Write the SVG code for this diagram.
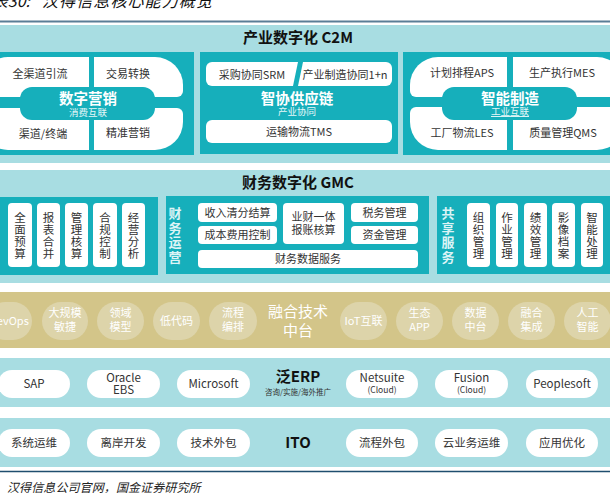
<svg xmlns="http://www.w3.org/2000/svg" width="610" height="493" viewBox="0 0 610 493">
<style>
text{font-family:"Noto Sans CJK SC","Liberation Sans",sans-serif;text-anchor:middle}
.band{fill:#a8dde2}
.panel{fill:#16afbb}
.wb{fill:#ffffff}
.t{font-size:11px;fill:#333333}
.tv{font-size:11.5px;fill:#333333}
.sec{font-size:15px;font-weight:bold;fill:#111111}
.hw{font-size:14.5px;font-weight:bold;fill:#ffffff}
.sw{font-size:9.5px;fill:#e6f7f8}
.vl{font-size:13px;font-weight:bold;fill:#dcf4f6}
.gp{fill:#ddd4aa}
.gt{font-size:11px;fill:#ffffff}
.pt{font-size:11.5px;fill:#333333}
.ps{font-size:8.5px;fill:#333333}
</style>
<g id="title">
<text x="30" y="7" style="font-size:16px;font-style:italic;text-anchor:end;fill:#111">图表30:</text>
<text x="42" y="7" style="font-size:16px;font-style:italic;text-anchor:start;letter-spacing:1.1px;fill:#111">汉得信息核心能力概览</text>
<line x1="0" y1="21.5" x2="610" y2="21.5" stroke="#5a7d96" stroke-width="2"/>
</g>
<g id="connectors"></g>
<g id="c2m">
<rect class="band" x="0" y="25" width="610" height="138"/>
<text class="sec" x="298" y="43">产业数字化 C2M</text>
<g id="marketing">
<rect class="panel" x="-10" y="52" width="204" height="103"/>
<path class="wb" d="M8 57H89V97H-14A6 6 0 0 1-20 91V85A28 28 0 0 1 8 57Z"/>
<path class="wb" d="M94 57H155A28 28 0 0 1 183 85V91A6 6 0 0 1 177 97H94Z"/>
<path class="wb" d="M-14 108H89V150H8A28 28 0 0 1-20 122V114A6 6 0 0 1-14 108Z"/>
<path class="wb" d="M94 108H177A6 6 0 0 1 183 114V122A28 28 0 0 1 155 150H94Z"/>
<rect class="panel" x="20" y="87" width="135" height="33" rx="12"/>
<text class="t" x="40" y="78">全渠道引流</text>
<text class="t" x="128" y="78">交易转换</text>
<text class="t" x="43" y="138">渠道/终端</text>
<text class="t" x="128" y="137">精准营销</text>
<text class="hw" x="88" y="104">数字营销</text>
<text class="sw" x="88" y="116">消费互联</text>
</g>
<g id="supply">
<rect class="panel" x="200" y="52" width="198" height="102"/>
<path class="wb" d="M212 62H298L293 86H212A6 6 0 0 1 206 80V68A6 6 0 0 1 212 62Z"/>
<path class="wb" d="M303 62H386A6 6 0 0 1 392 68V80A6 6 0 0 1 386 86H298Z"/>
<text class="t" x="252" y="79">采购协同SRM</text>
<text class="t" x="345" y="79">产业制造协同1+n</text>
<text class="hw" x="297" y="104">智协供应链</text>
<text class="sw" x="297" y="115">产业协同</text>
<rect class="wb" x="206" y="120" width="186" height="23" rx="6"/>
<text class="t" x="299" y="136">运输物流TMS</text>
</g>
<g id="manufacturing">
<rect class="panel" x="403" y="52" width="215" height="103"/>
<path class="wb" d="M438 57H507V97H416A6 6 0 0 1 410 91V85A28 28 0 0 1 438 57Z"/>
<path class="wb" d="M513 57H597A28 28 0 0 1 625 85V91A6 6 0 0 1 619 97H513Z"/>
<path class="wb" d="M416 107H507V150H438A28 28 0 0 1 410 122V113A6 6 0 0 1 416 107Z"/>
<path class="wb" d="M513 107H619A6 6 0 0 1 625 113V122A28 28 0 0 1 597 150H513Z"/>
<rect class="panel" x="442" y="87" width="135" height="33" rx="12"/>
<text class="t" x="462" y="77">计划排程APS</text>
<text class="t" x="562" y="77">生产执行MES</text>
<text class="t" x="462" y="137">工厂物流LES</text>
<text class="t" x="563" y="137">质量管理QMS</text>
<text class="hw" x="510" y="104">智能制造</text>
<text class="sw" x="510" y="115" text-decoration="underline">工业互联</text>
</g>
</g>
<g id="gmc">
<rect class="band" x="0" y="170" width="610" height="113"/>
<text class="sec" x="298" y="188">财务数字化 GMC</text>
<g id="finance-left">
<rect class="panel" x="-10" y="197" width="168" height="78"/>
<rect class="wb" x="8" y="203" width="24" height="64" rx="4"/>
<rect class="wb" x="37" y="203" width="23" height="64" rx="4"/>
<rect class="wb" x="65" y="203" width="23" height="64" rx="4"/>
<rect class="wb" x="93" y="203" width="24" height="64" rx="4"/>
<rect class="wb" x="122" y="203" width="23" height="64" rx="4"/>
<text class="tv" x="20" y="222">全</text><text class="tv" x="20" y="234">面</text><text class="tv" x="20" y="246">预</text><text class="tv" x="20" y="258">算</text>
<text class="tv" x="48.5" y="222">报</text><text class="tv" x="48.5" y="234">表</text><text class="tv" x="48.5" y="246">合</text><text class="tv" x="48.5" y="258">并</text>
<text class="tv" x="76.5" y="222">管</text><text class="tv" x="76.5" y="234">理</text><text class="tv" x="76.5" y="246">核</text><text class="tv" x="76.5" y="258">算</text>
<text class="tv" x="105" y="222">合</text><text class="tv" x="105" y="234">规</text><text class="tv" x="105" y="246">控</text><text class="tv" x="105" y="258">制</text>
<text class="tv" x="133.5" y="222">经</text><text class="tv" x="133.5" y="234">营</text><text class="tv" x="133.5" y="246">分</text><text class="tv" x="133.5" y="258">析</text>
</g>
<g id="finance-ops">
<rect class="panel" x="166" y="196" width="263" height="78"/>
<text class="vl" x="175" y="218">财</text><text class="vl" x="175" y="232.5">务</text><text class="vl" x="175" y="247">运</text><text class="vl" x="175" y="261.5">营</text>
<rect class="wb" x="198" y="203" width="79" height="19" rx="4"/>
<rect class="wb" x="198" y="226" width="79" height="18" rx="4"/>
<rect class="wb" x="283" y="203" width="61" height="41" rx="4"/>
<rect class="wb" x="351" y="203" width="67" height="19" rx="4"/>
<rect class="wb" x="351" y="226" width="67" height="18" rx="4"/>
<rect class="wb" x="198" y="250" width="220" height="18" rx="4"/>
<text class="t" x="237.5" y="216.5">收入清分结算</text>
<text class="t" x="237.5" y="239">成本费用控制</text>
<text class="t" x="313.5" y="221">业财一体</text>
<text class="t" x="313.5" y="234">报账核算</text>
<text class="t" x="384.5" y="216.5">税务管理</text>
<text class="t" x="384.5" y="239">资金管理</text>
<text class="t" x="308" y="263">财务数据服务</text>
</g>
<g id="shared">
<rect class="panel" x="437" y="196" width="180" height="78"/>
<text class="vl" x="448" y="218">共</text><text class="vl" x="448" y="232.5">享</text><text class="vl" x="448" y="247">服</text><text class="vl" x="448" y="261.5">务</text>
<rect class="wb" x="467" y="203" width="23" height="64" rx="4"/>
<rect class="wb" x="496" y="203" width="22" height="64" rx="4"/>
<rect class="wb" x="524" y="203" width="23" height="64" rx="4"/>
<rect class="wb" x="552" y="203" width="23" height="64" rx="4"/>
<rect class="wb" x="581" y="203" width="22" height="64" rx="4"/>
<text class="tv" x="478.5" y="222">组</text><text class="tv" x="478.5" y="234">织</text><text class="tv" x="478.5" y="246">管</text><text class="tv" x="478.5" y="258">理</text>
<text class="tv" x="507" y="222">作</text><text class="tv" x="507" y="234">业</text><text class="tv" x="507" y="246">管</text><text class="tv" x="507" y="258">理</text>
<text class="tv" x="535.5" y="222">绩</text><text class="tv" x="535.5" y="234">效</text><text class="tv" x="535.5" y="246">管</text><text class="tv" x="535.5" y="258">理</text>
<text class="tv" x="563.5" y="222">影</text><text class="tv" x="563.5" y="234">像</text><text class="tv" x="563.5" y="246">档</text><text class="tv" x="563.5" y="258">案</text>
<text class="tv" x="592" y="222">智</text><text class="tv" x="592" y="234">能</text><text class="tv" x="592" y="246">处</text><text class="tv" x="592" y="258">理</text>
</g>
</g>
<g id="tech-platform">
<rect x="0" y="292" width="610" height="56" fill="#d3c589"/>
<rect class="gp" x="-14" y="302" width="46" height="38" rx="19"/>
<rect class="gp" x="42" y="302" width="46" height="38" rx="19"/>
<rect class="gp" x="97" y="302" width="47" height="38" rx="19"/>
<rect class="gp" x="153" y="302" width="47" height="38" rx="19"/>
<rect class="gp" x="209" y="302" width="48" height="38" rx="19"/>
<rect class="gp" x="340" y="302" width="47" height="38" rx="19"/>
<rect class="gp" x="396" y="302" width="47" height="38" rx="19"/>
<rect class="gp" x="452" y="302" width="47" height="38" rx="19"/>
<rect class="gp" x="508" y="302" width="47" height="38" rx="19"/>
<rect class="gp" x="564" y="302" width="47" height="38" rx="19"/>
<text class="gt" x="9" y="325">DevOps</text>
<text class="gt" x="65" y="317">大规模</text><text class="gt" x="65" y="331">敏捷</text>
<text class="gt" x="120.5" y="317">领域</text><text class="gt" x="120.5" y="331">模型</text>
<text class="gt" x="176.5" y="325">低代码</text>
<text class="gt" x="233" y="317">流程</text><text class="gt" x="233" y="331">编排</text>
<text x="298" y="317" style="font-size:15px;fill:#ffffff">融合技术</text>
<text x="298" y="336" style="font-size:15px;fill:#ffffff">中台</text>
<text class="gt" x="363.5" y="325">IoT互联</text>
<text class="gt" x="419.5" y="317">生态</text><text class="gt" x="419.5" y="331">APP</text>
<text class="gt" x="475.5" y="317">数据</text><text class="gt" x="475.5" y="331">中台</text>
<text class="gt" x="531.5" y="317">融合</text><text class="gt" x="531.5" y="331">集成</text>
<text class="gt" x="587.5" y="317">人工</text><text class="gt" x="587.5" y="331">智能</text>
</g>
<g id="erp">
<rect class="band" x="0" y="358" width="610" height="49"/>
<rect class="wb" x="-2" y="370" width="72" height="28" rx="14"/>
<rect class="wb" x="87" y="370" width="73" height="28" rx="14"/>
<rect class="wb" x="177" y="370" width="73" height="28" rx="14"/>
<rect class="wb" x="346" y="370" width="72" height="28" rx="14"/>
<rect class="wb" x="435" y="370" width="73" height="28" rx="14"/>
<rect class="wb" x="526" y="370" width="72" height="28" rx="14"/>
<text class="pt" x="34" y="388">SAP</text>
<text class="pt" x="123.5" y="382">Oracle</text>
<text class="pt" x="123.5" y="394">EBS</text>
<text class="pt" x="213.5" y="388">Microsoft</text>
<text x="298" y="382" style="font-size:15px;font-weight:bold;fill:#111">泛ERP</text>
<text x="298" y="395" style="font-size:7.5px;fill:#333">咨询/实施/海外推广</text>
<text class="pt" x="382" y="382">Netsuite</text>
<text class="ps" x="382" y="393">(Cloud)</text>
<text class="pt" x="471.5" y="382">Fusion</text>
<text class="ps" x="471.5" y="393">(Cloud)</text>
<text class="pt" x="562" y="388">Peoplesoft</text>
</g>
<g id="ito">
<rect class="band" x="0" y="418" width="610" height="49"/>
<rect class="wb" x="-2" y="429" width="72" height="28" rx="14"/>
<rect class="wb" x="87" y="429" width="73" height="28" rx="14"/>
<rect class="wb" x="177" y="429" width="73" height="28" rx="14"/>
<rect class="wb" x="346" y="429" width="72" height="28" rx="14"/>
<rect class="wb" x="435" y="429" width="73" height="28" rx="14"/>
<rect class="wb" x="526" y="429" width="72" height="28" rx="14"/>
<text class="pt" x="34" y="447">系统运维</text>
<text class="pt" x="123.5" y="447">离岸开发</text>
<text class="pt" x="213.5" y="447">技术外包</text>
<text x="298" y="448" style="font-size:15px;font-weight:bold;fill:#111">ITO</text>
<text class="pt" x="382" y="447">流程外包</text>
<text class="pt" x="471.5" y="447">云业务运维</text>
<text class="pt" x="562" y="447">应用优化</text>
</g>
<g id="footer">
<line x1="0" y1="471.5" x2="610" y2="471.5" stroke="#1f4e6e" stroke-width="1.5"/>
<text x="7" y="492" style="font-size:12px;font-style:italic;text-anchor:start;fill:#222;letter-spacing:0.1px">汉得信息公司官网，国金证券研究所</text>
</g>
</svg>
